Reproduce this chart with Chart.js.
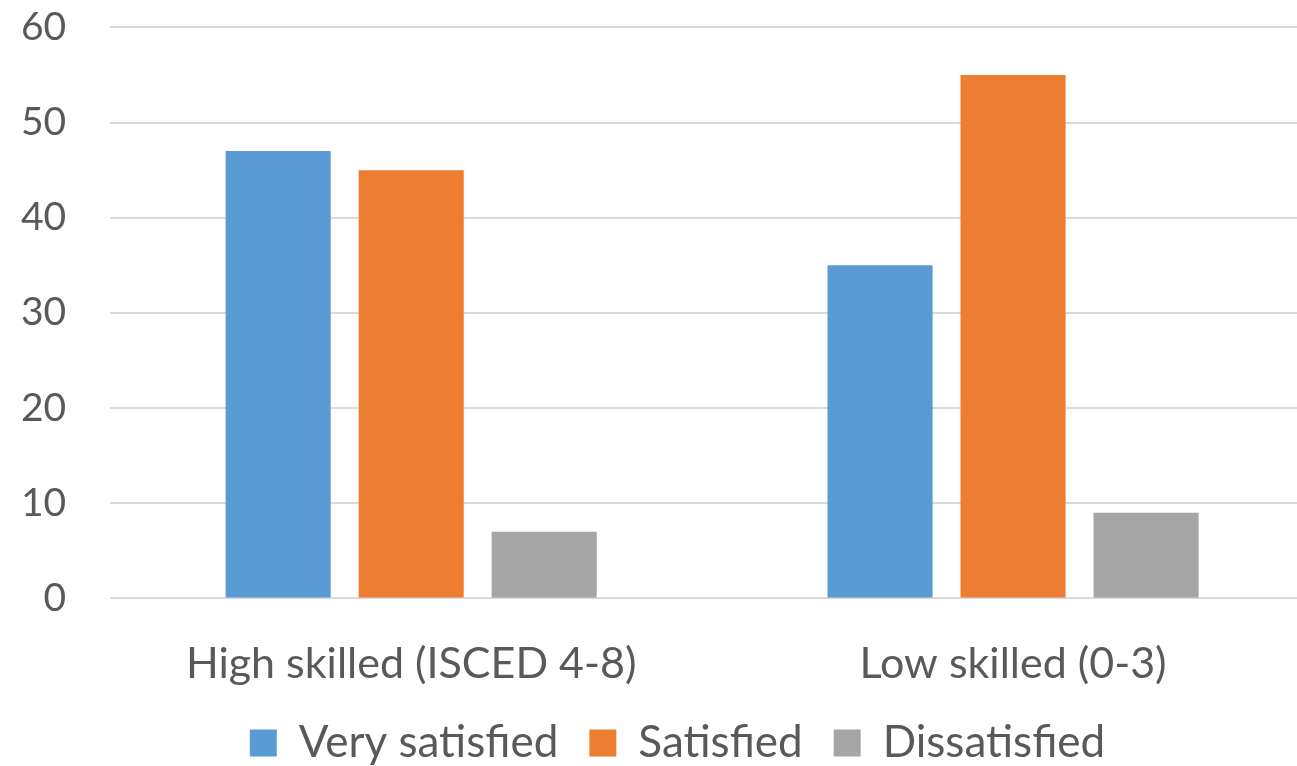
<!DOCTYPE html>
<html>
<head>
<meta charset="utf-8">
<script src="https://cdn.jsdelivr.net/npm/chart.js@4"></script>
<style>
  html, body { margin: 0; padding: 0; background: #fff; overflow: hidden; }
  #wrap { width: 1297px; height: 766px; overflow: hidden; }
</style>
</head>
<body>
<div id="wrap"><canvas id="myChart" width="1354" height="766"></canvas></div>
<script>
const categories = ['High skilled (ISCED 4-8)', 'Low skilled (0-3)'];
const verySatisfied = [47, 35];
const satisfied = [45, 55];
const dissatisfied = [7, 9];
const yTicks = [0, 10, 20, 30, 40, 50, 60];

const FONT = 'Lato, "Open Sans", sans-serif';
const TEXT = '#595959';
const NONE = 'rgba(0,0,0,0)';

const ctx = document.querySelector('#myChart');
// eslint-disable-next-line no-unused-vars
const barChart = new Chart(ctx, {
  type: 'bar',
  data: {
    labels: categories,
    datasets: [
      { label: 'Very satisfied', data: verySatisfied, backgroundColor: '#5B9BD5' },
      { label: 'Satisfied', data: satisfied, backgroundColor: '#ED7D31' },
      { label: 'Dissatisfied', data: dissatisfied, backgroundColor: '#A5A5A5' },
    ],
  },
  options: {
    responsive: false,
    animation: false,
    devicePixelRatio: 1,
    categoryPercentage: 0.663,
    barPercentage: 0.79,
    layout: { padding: { top: 27, right: 16, left: 17, bottom: -9 } },
    plugins: {
      tooltip: { enabled: false },
      legend: {
        position: 'bottom',
        labels: {
          color: TEXT,
          font: { family: FONT, size: 44 },
          boxWidth: 27,
          boxHeight: 27,
          padding: 31,
        },
      },
    },
    scales: {
      x: {
        grid: { display: false, drawTicks: true, tickLength: 40, tickColor: NONE },
        border: { display: false },
        ticks: {
          color: TEXT,
          font: { family: FONT, size: 43 },
          padding: 0,
          maxRotation: 0,
        },
      },
      y: {
        min: 0,
        max: 60,
        afterBuildTicks: (axis) => {
          axis.ticks = yTicks.map((v) => ({ value: v }));
        },
        grid: { color: '#D9D9D9', lineWidth: 2, drawTicks: true, tickLength: 40, tickColor: NONE },
        border: { display: false },
        ticks: {
          color: TEXT,
          font: { family: FONT, size: 39 },
          padding: 4,
        },
      },
      // empty spacer on the right so the legend sits where it does in the original
      y2: {
        type: 'linear',
        position: 'right',
        grid: { display: false },
        border: { display: false },
        ticks: { display: false },
        afterFit: (axis) => {
          axis.width = 24;
        },
      },
    },
  },
});
</script>
</body>
</html>
